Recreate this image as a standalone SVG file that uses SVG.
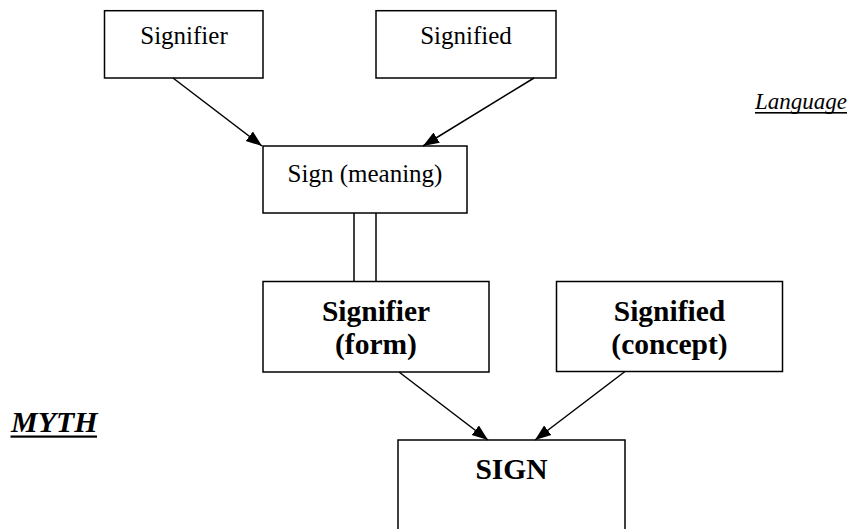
<svg xmlns="http://www.w3.org/2000/svg" width="857" height="529" viewBox="0 0 857 529">
<style>
.box{fill:#fff;stroke:#000;stroke-width:1.5}
.t{font-family:"Liberation Serif","Times New Roman",serif;fill:#000;text-anchor:middle}
.r{font-size:25px}
.b{font-size:29.5px;font-weight:bold}
.c{stroke:#000;stroke-width:1.5;fill:none}
</style>
<defs>
<marker id="ah" markerUnits="userSpaceOnUse" markerWidth="17" markerHeight="13" refX="16" refY="6.5" orient="auto">
<path d="M0,0.5 L16,6.5 L0,12.5 z" fill="#000"/>
</marker>
</defs>
<rect width="857" height="529" fill="#fff"/>
<g id="signifier">
<rect class="box" x="104.5" y="10.7" width="158.5" height="67.3"/>
<text class="t r" x="184" y="44">Signifier</text>
</g>
<g id="signified">
<rect class="box" x="376" y="10.7" width="180" height="67.3"/>
<text class="t r" x="466" y="44">Signified</text>
</g>
<g id="sign-meaning">
<rect class="box" x="263" y="146" width="204" height="67"/>
<text class="t r" x="365" y="182">Sign (meaning)</text>
</g>
<g id="signifier-form">
<rect class="box" x="263" y="281.5" width="226" height="90.5"/>
<text class="t b" x="376" y="321">Signifier</text>
<text class="t b" x="376" y="354">(form)</text>
</g>
<g id="signified-concept">
<rect class="box" x="556.5" y="281.5" width="226" height="90"/>
<text class="t b" x="669.5" y="321">Signified</text>
<text class="t b" x="669.5" y="354">(concept)</text>
</g>
<g id="sign">
<rect class="box" x="398" y="440" width="227" height="110"/>
<text class="t b" x="511.5" y="479">SIGN</text>
</g>
<g id="language">
<text x="755" y="109" font-family="'Liberation Serif','Times New Roman',serif" font-size="23" font-style="italic">Language</text>
<rect x="755" y="112" width="92" height="1.6" fill="#000"/>
</g>
<g id="myth">
<text x="11" y="431.5" font-family="'Liberation Serif','Times New Roman',serif" font-size="30" font-style="italic" font-weight="bold">MYTH</text>
<rect x="10.5" y="435.5" width="86.5" height="2.2" fill="#000"/>
</g>
<g id="connectors">
<line class="c" x1="173" y1="78" x2="262" y2="146" marker-end="url(#ah)"/>
<line class="c" x1="534" y1="78" x2="423" y2="146" marker-end="url(#ah)"/>
<line class="c" x1="354" y1="213" x2="354" y2="281.5"/>
<line class="c" x1="376" y1="213" x2="376" y2="281.5"/>
<line class="c" x1="399" y1="372" x2="488" y2="440" marker-end="url(#ah)"/>
<line class="c" x1="625" y1="371.5" x2="535" y2="440" marker-end="url(#ah)"/>
</g>
</svg>
